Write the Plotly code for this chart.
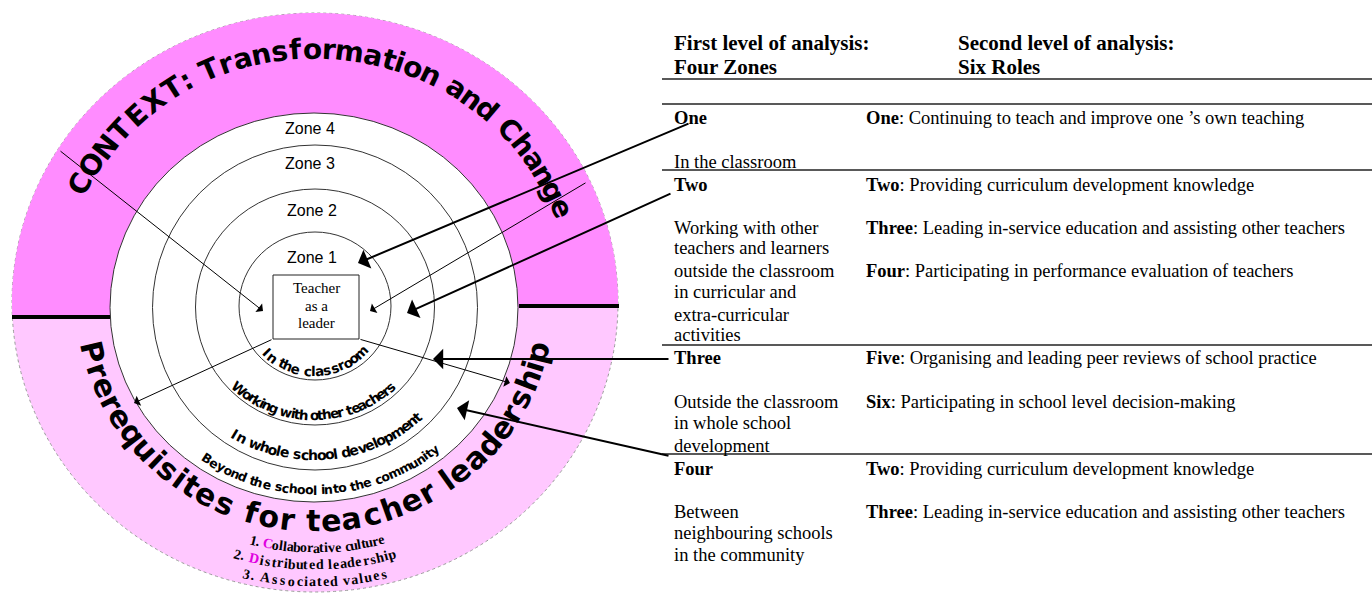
import math
import plotly.graph_objects as go

W, H = 1372, 593

# ---------------- content ----------------
zone_names = ["Zone 1", "Zone 2", "Zone 3", "Zone 4"]
ring_labels = ["In the classroom", "Working with other teachers",
               "In whole school development", "Beyond the school into the community"]
context_text = "CONTEXT: Transformation and Change"
prereq_text = "Prerequisites for teacher leadership"
prereq_items = ["1. Collaborative culture", "2. Distributed leadership", "3. Associated values"]
center_box = ["Teacher", "as a", "leader"]
header_left = ["First level of analysis:", "Four Zones"]
header_right = ["Second level of analysis:", "Six Roles"]
zone_words = ["One", "Two", "Three", "Four"]
zone_desc = [["In the classroom"],
             ["Working with other", "teachers and learners", "outside the classroom",
              "in curricular and", "extra-curricular", "activities"],
             ["Outside the classroom", "in whole school", "development"],
             ["Between", "neighbouring schools", "in the community"]]
role_words = [["One"], ["Two", "Three", "Four"], ["Five", "Six"], ["Two", "Three"]]
role_desc = [["Continuing to teach and improve one \u2019s own teaching"],
             ["Providing curriculum development knowledge",
              "Leading in-service education and assisting other teachers",
              "Participating in performance evaluation of teachers"],
             ["Organising and leading peer reviews of school practice",
              "Participating in school level decision-making"],
             ["Providing curriculum development knowledge",
              "Leading in-service education and assisting other teachers"]]

# ---------------- geometry / style ----------------
DARK_PINK = "#FF8CFF"
LIGHT_PINK = "#FFC8FF"
OUT_C = (315, 302.5); OUT_R = (303, 289.5)
ZONE_GEOM = [((315, 306), (76, 74)), ((315, 307), (119.5, 118)),
             ((315, 307.5), (162.5, 162.5)), ((314, 307.5), (204, 194.5))]
K = 1.045

shapes = []
ann = []


def ellipse(c, r, fill=None, line_color="#333", width=1, dash=None):
    d = dict(type="circle", xref="x", yref="y",
             x0=c[0] - r[0], x1=c[0] + r[0], y0=c[1] - r[1], y1=c[1] + r[1],
             line=dict(color=line_color, width=width))
    if dash:
        d["line"]["dash"] = dash
    d["fillcolor"] = fill if fill else "rgba(0,0,0,0)"
    shapes.append(d)


# outer light pink disk
ellipse(OUT_C, OUT_R, fill=LIGHT_PINK, line_color="#9a9a9a", width=1, dash="dot")
# upper dark pink part
pts = []
a0, a1 = 177.2, 360.8
n = 120
for i in range(n + 1):
    t = math.radians(a0 + (a1 - a0) * i / n)
    pts.append((OUT_C[0] + OUT_R[0] * math.cos(t), OUT_C[1] + OUT_R[1] * math.sin(t)))
path = "M " + " L ".join(f"{x:.1f},{y:.1f}" for x, y in pts) + " Z"
shapes.append(dict(type="path", path=path, xref="x", yref="y",
                   fillcolor=DARK_PINK, line=dict(width=0)))
# zone 4 white disk + zone rings
ellipse(ZONE_GEOM[3][0], ZONE_GEOM[3][1], fill="white", line_color="#333", width=1)
for c, r in ZONE_GEOM[:3]:
    ellipse(c, r, line_color="#333", width=1)
# thick divider lines
shapes.append(dict(type="line", xref="x", yref="y", x0=12, x1=110, y0=317, y1=317,
                   line=dict(color="black", width=4)))
shapes.append(dict(type="line", xref="x", yref="y", x0=519, x1=619, y0=306, y1=306,
                   line=dict(color="black", width=4)))
# teacher box
shapes.append(dict(type="rect", xref="x", yref="y", x0=273, x1=359, y0=275, y1=339,
                   line=dict(color="#222", width=1), fillcolor="white"))

# table rules
for yy in [79, 104, 170, 345, 454]:
    shapes.append(dict(type="line", xref="x", yref="y", x0=662, x1=1372, y0=yy, y1=yy,
                       line=dict(color="#222", width=1.6)))


def char_w(c, serif=False):
    if serif:
        if c == ' ':
            return 0.25
        if c in "il.,:;!'\u2019tfj":
            return 0.3
        if c in "mwMW":
            return 0.75
        if c.isupper():
            return 0.68
        return 0.48
    if c == ' ':
        return 0.32
    if c in "il.,:;!|'":
        return 0.3
    if c in "fjtr":
        return 0.45
    if c in "mwMW":
        return 0.92
    if c.isupper():
        return 0.74
    return 0.62


def arc_text(text, center, r, th_start, th_end, size, family, weight="bold",
             bottom=False, serif=False, color="black", special=None):
    ws = [char_w(c, serif) for c in text]
    pos = []
    s = 0
    for w in ws:
        pos.append(s + w / 2)
        s += w
    p0, p1 = pos[0], pos[-1]
    for i, (ch, p) in enumerate(zip(text, pos)):
        if ch == ' ':
            continue
        t = th_start + (th_end - th_start) * (p - p0) / (p1 - p0)
        rad = math.radians(t)
        x = center[0] + r * K * math.cos(rad)
        y = center[1] + r * math.sin(rad)
        ang = (t - 90) if bottom else (t - 270)
        while ang > 180:
            ang -= 360
        while ang < -180:
            ang += 360
        col = color
        if special and i in special:
            col = special[i]
        ann.append(dict(x=x, y=y, xref="x", yref="y", text=ch, showarrow=False,
                        xanchor="center", yanchor="middle", textangle=ang,
                        borderpad=0,
                        font=dict(family=family, size=size, color=col, weight=weight)))


COMIC = "DejaVu Sans"
SERIF = "Liberation Serif"
SANS = "Liberation Sans"

arc_text(context_text, (315, 303), 254, 208, 338, 28, COMIC)
arc_text(prereq_text, (315, 303), 218, 167, 13, 30, COMIC, bottom=True)

ring_geom = [(64, 135, 45, 13.5), (108, 131, 47.5, 13.5), (148, 121, 48, 14), (183, 124, 51, 12.5)]
for lab, (r, a, b, sz) in zip(ring_labels, ring_geom):
    arc_text(lab, (314, 307), r, a, b, sz, COMIC, bottom=True)

item_geom = [(245, 104, 75), (262, 106.5, 73.6), (279, 103.5, 76.4)]
specials = [{3: "#E000E0"}, {3: "#E000E0"}, None]
for lab, (r, a, b), sp in zip(prereq_items, item_geom, specials):
    arc_text(lab, (315, 303), r, a, b, 14, SERIF, weight="bold", bottom=True,
             serif=True, special=sp)

# zone labels
zone_label_pos = [(312, 257), (312, 210), (310, 163), (310, 128)]
for lab, (x, y) in zip(zone_names, zone_label_pos):
    ann.append(dict(x=x, y=y, xref="x", yref="y", text=lab, showarrow=False,
                    font=dict(family=SANS, size=16, color="black")))

for lab, y in zip(center_box, [288, 306, 323]):
    ann.append(dict(x=316, y=y, xref="x", yref="y", text=lab, showarrow=False,
                    font=dict(family=SERIF, size=15, color="black")))

# table headers
HF = dict(family=SERIF, size=21, color="black")
for lab, y in zip(header_left, [43, 67]):
    ann.append(dict(x=672, y=y, xref="x", yref="y", text=f"<b>{lab}</b>", showarrow=False,
                    xanchor="left", yanchor="middle", font=HF))
for lab, y in zip(header_right, [43, 67]):
    ann.append(dict(x=956, y=y, xref="x", yref="y", text=f"<b>{lab}</b>", showarrow=False,
                    xanchor="left", yanchor="middle", font=HF))

zone_word_y = [118, 185, 358, 469]
zone_desc_y = [[162], [228, 248, 271, 292, 315, 335], [402, 423, 446], [512, 533, 555]]
role_y = [[118], [185, 228, 271], [358, 402], [469, 512]]
TF = dict(family=SERIF, size=18.5, color="black")
for zw, zy, descs, dys, rws, rds, rys in zip(zone_words, zone_word_y, zone_desc, zone_desc_y,
                                            role_words, role_desc, role_y):
    ann.append(dict(x=672, y=zy, xref="x", yref="y", text=f"<b>{zw}</b>", showarrow=False,
                    xanchor="left", yanchor="middle", font=TF))
    for d, dy in zip(descs, dys):
        ann.append(dict(x=672, y=dy, xref="x", yref="y", text=d, showarrow=False,
                        xanchor="left", yanchor="middle", font=TF))
    for w, d, ry in zip(rws, rds, rys):
        ann.append(dict(x=864, y=ry, xref="x", yref="y", text=f"<b>{w}</b>: {d}",
                        showarrow=False, xanchor="left", yanchor="middle", font=TF))

# arrows: (tip x, tip y, tail x, tail y, width, size)
arrows = [
    (358, 263, 690, 123, 2, 1.7),
    (407, 313, 672, 193, 2, 1.7),
    (433, 359, 670, 359, 2, 1.7),
    (457, 408, 670, 456, 2, 1.7),
    (263, 311, 59, 150, 1, 1.8),
    (370, 311, 587, 182, 1, 1.8),
    (134, 403, 273, 339, 1, 1.8),
    (510, 383, 359, 339, 1, 1.8),
]
for tx, ty, sx, sy, w, s in arrows:
    ann.append(dict(x=tx, y=ty, ax=sx, ay=sy, xref="x", yref="y", axref="x", ayref="y",
                    text="", showarrow=True, arrowhead=1, arrowwidth=w, arrowsize=s,
                    arrowcolor="black", standoff=0, startstandoff=0))

fig = go.Figure()
fig.update_layout(
    width=W, height=H, margin=dict(l=0, r=0, t=0, b=0),
    paper_bgcolor="white", plot_bgcolor="white",
    xaxis=dict(range=[0, W], visible=False, fixedrange=True),
    yaxis=dict(range=[H, 0], visible=False, fixedrange=True),
    shapes=shapes, annotations=ann, showlegend=False,
)
fig.write_html("out.html", config={"displayModeBar": False},
               post_script="document.body.style.margin='0';")
